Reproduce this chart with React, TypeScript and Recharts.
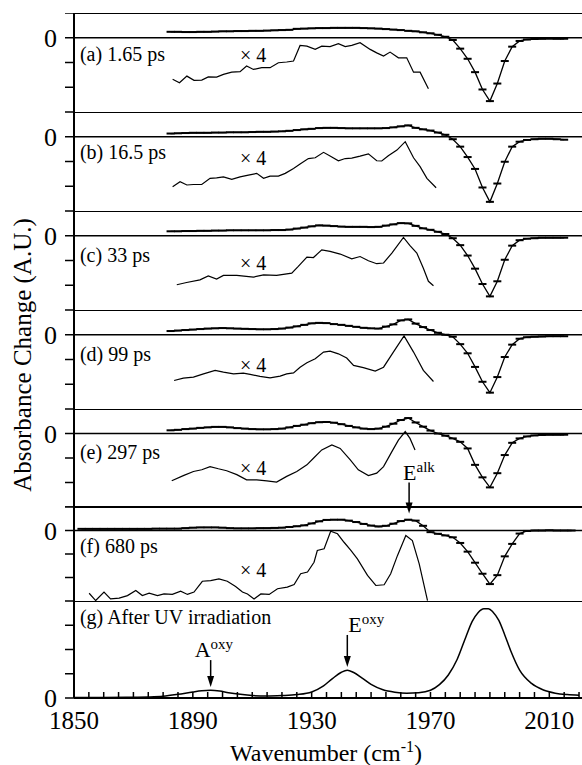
import React from 'react';
import { ComposedChart, Line, XAxis, YAxis, ReferenceLine, ReferenceDot } from 'recharts';

const FONT = "'Liberation Serif', 'Times New Roman', serif";

// wavenumber grid of the error-bar traces (cm-1)
const WAVENUMBERS = [
    1852.5, 1855, 1857.5, 1860, 1862.5, 1865, 1867.5, 1870, 1872.5, 1875, 1877.5, 1880,
    1882.5, 1885, 1887.5, 1890, 1892.5, 1895, 1897.5, 1900, 1902.5, 1905, 1907.5, 1910,
    1912.5, 1915, 1917.5, 1920, 1922.5, 1925, 1927.5, 1930, 1932.5, 1935, 1937.5, 1940,
    1942.5, 1945, 1947.5, 1950, 1952.5, 1955, 1957.5, 1960, 1962.5, 1965, 1967.5, 1970,
    1972.5, 1975, 1977.5, 1980, 1982.5, 1985, 1987.5, 1990, 1992.5, 1995, 1997.5, 2000,
    2002.5, 2005, 2007.5, 2010, 2012.5, 2015, 2017.5,
];
const X_MAIN = WAVENUMBERS.slice(12, 66); // 1882.5 .. 2015

// measured difference spectra (panels a-e start at 1882.5, f at 1852.5)
const A_MAIN = [0.24, 0.24, 0.23, 0.23, 0.24, 0.24, 0.25, 0.26, 0.26, 0.27, 0.27, 0.28, 0.28, 0.29, 0.30, 0.31, 0.32, 0.36, 0.37, 0.38,
    0.39, 0.39, 0.40, 0.40, 0.40, 0.40, 0.39, 0.38, 0.37, 0.35, 0.33, 0.31, 0.28, 0.26, 0.22, 0.18, 0.12, 0.04, -0.09, -0.44,
    -0.85, -1.39, -2.09, -2.56, -1.85, -0.94, -0.36, -0.13, -0.07, -0.05, -0.04, -0.03, -0.04, -0.04];
const B_MAIN = [0.13, 0.14, 0.15, 0.16, 0.16, 0.16, 0.17, 0.17, 0.18, 0.18, 0.18, 0.19, 0.20, 0.20, 0.21, 0.22, 0.24, 0.27, 0.30, 0.32,
    0.35, 0.36, 0.36, 0.35, 0.34, 0.34, 0.34, 0.34, 0.34, 0.35, 0.38, 0.42, 0.46, 0.36, 0.30, 0.25, 0.17, 0.08, -0.10, -0.40,
    -0.82, -1.30, -2.05, -2.63, -1.89, -1.01, -0.40, -0.20, -0.13, -0.10, -0.08, -0.08, -0.10, -0.12];
const C_MAIN = [0.18, 0.18, 0.19, 0.19, 0.20, 0.20, 0.21, 0.21, 0.22, 0.22, 0.22, 0.22, 0.22, 0.22, 0.23, 0.23, 0.25, 0.29, 0.33, 0.38,
    0.42, 0.41, 0.39, 0.37, 0.36, 0.36, 0.36, 0.35, 0.36, 0.41, 0.46, 0.51, 0.50, 0.40, 0.30, 0.24, 0.16, 0.07, -0.10, -0.38,
    -0.80, -1.33, -1.95, -2.45, -1.84, -0.97, -0.40, -0.18, -0.12, -0.10, -0.08, -0.08, -0.08, -0.08];
const D_MAIN = [0.15, 0.17, 0.19, 0.21, 0.23, 0.25, 0.26, 0.27, 0.26, 0.25, 0.24, 0.23, 0.22, 0.22, 0.23, 0.25, 0.29, 0.34, 0.40, 0.46,
    0.48, 0.47, 0.43, 0.40, 0.36, 0.32, 0.28, 0.26, 0.25, 0.33, 0.42, 0.58, 0.62, 0.45, 0.31, 0.19, 0.08, 0.00, -0.08, -0.38,
    -0.75, -1.30, -1.90, -2.34, -1.71, -0.90, -0.40, -0.16, -0.10, -0.08, -0.07, -0.06, -0.06, -0.06];
const E_MAIN = [0.13, 0.15, 0.18, 0.20, 0.23, 0.25, 0.27, 0.27, 0.25, 0.22, 0.20, 0.18, 0.17, 0.17, 0.18, 0.20, 0.25, 0.31, 0.36, 0.42,
    0.46, 0.47, 0.44, 0.38, 0.31, 0.25, 0.20, 0.18, 0.20, 0.28, 0.40, 0.55, 0.63, 0.45, 0.28, 0.12, 0.00, -0.09, -0.20, -0.34,
    -0.61, -1.28, -1.79, -2.20, -1.62, -0.88, -0.38, -0.20, -0.12, -0.08, -0.06, -0.05, -0.05, -0.05];
const F_MAIN = [0.07, 0.07, 0.07, 0.07, 0.07, 0.07, 0.07, 0.07, 0.07, 0.07, 0.08, 0.08,
    0.08, 0.08, 0.10, 0.12, 0.13, 0.13, 0.13, 0.12, 0.10, 0.09, 0.09, 0.09, 0.10, 0.10, 0.11, 0.12, 0.15, 0.18,
    0.22, 0.30, 0.39, 0.45, 0.46, 0.46, 0.42, 0.36, 0.28, 0.21, 0.17, 0.20, 0.29, 0.40, 0.46, 0.42, 0.20, -0.07,
    -0.14, -0.21, -0.29, -0.53, -0.90, -1.37, -1.84, -2.28, -1.90, -1.10, -0.57, -0.13, -0.02, 0.00, 0.00, 0.01,
    0.00, 0.00, 0.00];

// x4 magnified traces (own wavenumber samples)
const A_X4_X = [1883.2, 1885.5, 1888, 1890.4, 1893, 1895.2, 1898, 1900.3, 1903.1, 1905.9, 1908.1, 1910.4, 1913.2, 1916, 1918.8, 1921.6, 1923.9, 1926.1,
    1928.4, 1931.2, 1933.4, 1936.2, 1939, 1941.3, 1943.5, 1946.3, 1949.7, 1951.9, 1954.2, 1956.4, 1959.2, 1962, 1964.3, 1966.5, 1969.3];
const A_X4_Y = [-1.68, -1.82, -1.55, -1.72, -1.71, -1.58, -1.59, -1.48, -1.39, -1.37, -1.14, -1.28, -1.21, -1.21, -1.01, -0.98, -0.94, -0.31,
    -0.34, -0.47, -0.34, -0.36, -0.24, -0.36, -0.31, -0.20, -0.47, -0.61, -0.74, -0.58, -0.81, -0.81, -1.39, -1.39, -2.06];
const B_X4_X = [1883.2, 1885.7, 1888, 1890.2, 1893, 1895.8, 1898, 1900.3, 1903.1, 1905.9, 1908.7, 1911.5, 1913.8, 1916, 1918.8, 1921.1, 1923.9, 1926.1,
    1928.9, 1931.2, 1934, 1936.2, 1939, 1941.3, 1943.5, 1946.3, 1949.1, 1951.9, 1953.6, 1955.8, 1958.7, 1961.5, 1964.3, 1966.5, 1968.8, 1971.9];
const B_X4_Y = [-2.02, -1.82, -1.95, -1.93, -1.93, -1.68, -1.66, -1.62, -1.72, -1.62, -1.55, -1.48, -1.68, -1.59, -1.59, -1.48, -1.28, -1.10,
    -0.88, -0.85, -0.63, -0.78, -0.97, -0.88, -0.86, -0.78, -0.69, -0.97, -0.98, -0.77, -0.54, -0.20, -0.85, -1.21, -1.68, -2.06];
const C_X4_X = [1884.6, 1887.9, 1892.4, 1895.2, 1898, 1900.3, 1904.8, 1910.4, 1913.8, 1918.2, 1923.3, 1925.5, 1928.4, 1930.6, 1933.4,
    1936.2, 1939.6, 1943.5, 1946.3, 1949.1, 1951.9, 1954.2, 1957, 1960.9, 1963.1, 1965.4, 1967.6, 1969.3, 1971];
const C_X4_Y = [-1.98, -1.89, -1.78, -1.62, -1.75, -1.60, -1.60, -1.67, -1.58, -1.60, -1.51, -1.24, -0.86, -0.88, -0.57,
    -0.63, -0.74, -0.93, -0.84, -1.01, -1.13, -1.10, -0.70, -0.07, -0.40, -0.70, -1.31, -1.84, -2.02];
const D_X4_X = [1883.7, 1886.8, 1890.2, 1893.6, 1897.5, 1900.3, 1903.7, 1907, 1909.3, 1912.6, 1916, 1919.4, 1921.6, 1923.9, 1926.1,
    1928.4, 1931.2, 1934, 1936.2, 1939, 1941.8, 1944.1, 1947.4, 1951.4, 1954.2, 1957.5, 1961.1, 1964.3, 1967.6, 1971];
const D_X4_Y = [-1.85, -1.75, -1.71, -1.58, -1.44, -1.51, -1.58, -1.55, -1.60, -1.68, -1.74, -1.67, -1.58, -1.54, -1.31,
    -1.13, -0.97, -0.70, -0.66, -0.77, -0.94, -1.24, -1.33, -1.47, -1.31, -0.70, -0.05, -0.70, -1.44, -1.89];
const E_X4_X = [1882.9, 1886.8, 1890.2, 1893, 1895.8, 1898.6, 1901.4, 1904.8, 1908.1, 1911.5, 1914.9, 1918.2, 1921.6, 1925, 1928.4,
    1930.6, 1933.4, 1936.8, 1939.6, 1943, 1945.7, 1949.1, 1951.9, 1954.2, 1957, 1959.2, 1961.5, 1963.1, 1964.8];
const E_X4_Y = [-1.93, -1.72, -1.55, -1.48, -1.35, -1.44, -1.52, -1.68, -1.89, -1.89, -1.93, -1.98, -1.75, -1.55, -1.28,
    -1.01, -0.67, -0.47, -0.61, -1.08, -1.48, -1.72, -1.62, -1.35, -0.74, -0.27, 0.08, -0.20, -0.67];
const F_X4_X = [1855.1, 1857.3, 1860.1, 1862.3, 1865.2, 1868, 1870.8, 1873, 1875.3, 1878.1, 1880.3, 1883.1, 1885.9, 1888.2, 1890.4, 1893.2,
    1896, 1898.8, 1901.6, 1904.4, 1906.7, 1908.4, 1910.6, 1912.9, 1915.7, 1918.5, 1921.8, 1924.1, 1926.3, 1928.6, 1930.8, 1931.9,
    1934.2, 1936.4, 1938.7, 1940.9, 1943.2, 1945.4, 1948.8, 1951.6, 1954.4, 1956.6, 1958.9, 1961.7, 1963.9, 1966.2, 1969];
const F_X4_Y = [-2.67, -2.98, -2.62, -2.91, -2.88, -2.77, -2.55, -2.77, -2.67, -2.77, -2.70, -2.72, -2.58, -2.72, -2.62, -2.16,
    -2.13, -2.06, -2.16, -2.38, -2.62, -2.70, -2.91, -2.70, -2.72, -2.48, -2.41, -2.30, -1.84, -1.77, -1.35, -0.85,
    -0.78, -0.03, -0.14, -0.50, -0.85, -1.21, -1.91, -2.34, -2.31, -1.84, -1.06, -0.21, -0.43, -1.42, -2.98];

// (g) static spectrum after UV irradiation
const G_X = [1850, 1860, 1870, 1875, 1880, 1885, 1890, 1893, 1896, 1899, 1902, 1906, 1910, 1915, 1920, 1925, 1930, 1934, 1937, 1940,
    1942, 1944, 1947, 1950, 1954, 1958, 1962, 1966, 1970, 1973, 1976, 1979, 1982, 1984, 1986, 1988, 1989.5, 1991, 1993, 1995,
    1997, 2000, 2004, 2008, 2012, 2016, 2020];
const G_Y = [0.02, 0.02, 0.03, 0.04, 0.07, 0.15, 0.25, 0.30, 0.32, 0.29, 0.22, 0.15, 0.10, 0.08, 0.10, 0.14, 0.25, 0.50, 0.80, 1.06,
    1.14, 1.06, 0.82, 0.56, 0.34, 0.24, 0.20, 0.22, 0.32, 0.55, 0.95, 1.60, 2.55, 3.15, 3.52, 3.68, 3.68, 3.55, 3.20, 2.60,
    1.95, 1.15, 0.60, 0.33, 0.20, 0.14, 0.11];

const X_TICKS = [1850, 1855, 1860, 1865, 1870, 1875, 1880, 1885, 1890, 1895, 1900, 1905, 1910, 1915, 1920, 1925, 1930, 1935,
    1940, 1945, 1950, 1955, 1960, 1965, 1970, 1975, 1980, 1985, 1990, 1995, 2000, 2005, 2010, 2015, 2020];
const X_LABELS = [1850, 1890, 1930, 1970, 2010];

const toPoints = (xs: number[], ys: number[]) => xs.map((x, i) => ({ x, y: ys[i] }));

const ErrorTick = (props: any) => {
    const { cx, cy, index } = props;
    if (cx == null || cy == null) return <g key={index} />;
    return <rect key={index} x={cx - 4} y={cy - 1} width={8} height={2} fill="#000" />;
};

const XTick = (props: any) => {
    const { x, y, payload } = props;
    return (
        <g>
            <line x1={x} x2={x} y1={y} y2={y - 6} stroke="#000" strokeWidth={1.5} />
            {X_LABELS.includes(payload.value) && (
                <text x={x} y={y + 31} textAnchor="middle" fontSize={25} fontFamily={FONT} fill="#000">
                    {payload.value}
                </text>
            )}
        </g>
    );
};

const textShape = (value: string, size = 20) => (p: any) => (
    <text x={p.cx} y={p.cy} fontSize={size} fontFamily={FONT} fill="#000">{value}</text>
);

const arrowShape = (base: string, sup: string, len: number, dx: number) => (p: any) => {
    const { cx, cy } = p;
    return (
        <g>
            <line x1={cx} x2={cx} y1={cy - len} y2={cy - 9} stroke="#000" strokeWidth={1.5} />
            <path d={`M${cx - 3.5},${cy - 11}L${cx + 3.5},${cy - 11}L${cx},${cy}Z`} fill="#000" />
            <text x={cx + dx} y={cy - len - 3} fontSize={22} fontFamily={FONT} fill="#000">
                {base}
                <tspan dy={-8} fontSize={15}>{sup}</tspan>
            </text>
        </g>
    );
};

interface PanelProps {
    top: number;
    height: number;
    padTop?: number;
    domain: [number, number];
    ticks: number[];
    frame: number;
    bottomAxis?: boolean;
    children: React.ReactNode;
}

const Panel: React.FC<PanelProps> = ({ top, height, padTop = 0, domain, ticks, frame, bottomAxis = false, children }) => {
    const axisH = bottomAxis ? 67 : 0;
    return (
        <div style={{ position: 'absolute', left: 0, top: top - padTop }}>
            <ComposedChart width={582} height={height + padTop + axisH} margin={{ top: padTop, right: 0, bottom: 0, left: 0 }}>
                <XAxis
                    type="number"
                    dataKey="x"
                    domain={[1850, 2021]}
                    allowDataOverflow
                    hide={!bottomAxis}
                    height={axisH}
                    ticks={X_TICKS}
                    interval={0}
                    tick={<XTick />}
                    tickSize={0}
                    tickMargin={0}
                    tickLine={false}
                    axisLine={{ stroke: '#000', strokeWidth: 2 }}
                />
                <YAxis
                    type="number"
                    domain={domain}
                    ticks={ticks}
                    interval={0}
                    allowDataOverflow
                    width={74}
                    tickSize={9}
                    tickMargin={8}
                    tickFormatter={(v: number) => (v === 0 ? '0' : '')}
                    tick={{ fill: '#000', fontSize: 26, fontFamily: FONT }}
                    tickLine={{ stroke: '#000', strokeWidth: 1.5 }}
                    axisLine={{ stroke: '#000', strokeWidth: 2 }}
                />
                <ReferenceLine y={frame} stroke="#000" strokeWidth={1.8} />
                {!bottomAxis && <ReferenceLine y={0} stroke="#000" strokeWidth={1.3} />}
                {children}
            </ComposedChart>
        </div>
    );
};

const PANELS = [
    { id: 'a', top: 13, height: 99, label: '(a) 1.65 ps', labelAt: -0.94, scaleAt: -0.98, mainX: X_MAIN, main: A_MAIN, x4X: A_X4_X, x4: A_X4_Y },
    { id: 'b', top: 112, height: 99, label: '(b) 16.5 ps', labelAt: -0.88, scaleAt: -1.14, mainX: X_MAIN, main: B_MAIN, x4X: B_X4_X, x4: B_X4_Y },
    { id: 'c', top: 211, height: 99, label: '(c) 33 ps', labelAt: -1.05, scaleAt: -1.38, mainX: X_MAIN, main: C_MAIN, x4X: C_X4_X, x4: C_X4_Y },
    { id: 'd', top: 310, height: 99, label: '(d) 99 ps', labelAt: -1.06, scaleAt: -1.51, mainX: X_MAIN, main: D_MAIN, x4X: D_X4_X, x4: D_X4_Y },
    { id: 'e', top: 409, height: 98, label: '(e) 297 ps', labelAt: -1.04, scaleAt: -1.7, mainX: X_MAIN, main: E_MAIN, x4X: E_X4_X, x4: E_X4_Y },
    { id: 'f', top: 507, height: 94, label: '(f) 680 ps', labelAt: -0.94, scaleAt: -1.98, mainX: WAVENUMBERS, main: F_MAIN, x4X: F_X4_X, x4: F_X4_Y },
];

export default function App() {
    return (
        <div style={{ position: 'absolute', left: 0, top: 0, width: 582, height: 765, background: '#fff', overflow: 'hidden' }}>
            {PANELS.map(p => (
                <Panel key={p.id} top={p.top} height={p.height} padTop={p.id === 'f' ? 55 : 0} domain={[-3, 1]} ticks={[-3, -2, -1, 0, 1]} frame={1}>
                    <Line data={toPoints(p.mainX, p.main)} dataKey="y" stroke="#000" strokeWidth={1.3} dot={ErrorTick} isAnimationActive={false} />
                    <Line data={toPoints(p.x4X, p.x4)} dataKey="y" stroke="#000" strokeWidth={1.2} dot={false} isAnimationActive={false} />
                    <ReferenceDot x={1852} y={p.labelAt} r={0} shape={textShape(p.label)} />
                    <ReferenceDot x={1905.9} y={p.scaleAt} r={0} shape={textShape('× 4')} />
                    {p.id === 'f' && <ReferenceDot x={1962.8} y={0.72} r={0} shape={arrowShape('E', 'alk', 31, -6)} />}
                </Panel>
            ))}
            <Panel top={601} height={97} domain={[0, 4]} ticks={[0, 1, 2, 3, 4]} frame={4} bottomAxis>
                <Line data={toPoints(G_X, G_Y)} dataKey="y" type="monotone" stroke="#000" strokeWidth={1.5} dot={false} isAnimationActive={false} />
                <ReferenceDot x={1852} y={3.04} r={0} shape={textShape('(g) After UV irradiation')} />
                <ReferenceDot x={1896} y={0.45} r={0} shape={arrowShape('A', 'oxy', 27, -16)} />
                <ReferenceDot x={1942} y={1.28} r={0} shape={arrowShape('E', 'oxy', 32, 1)} />
            </Panel>
            <svg width={582} height={765} style={{ position: 'absolute', left: 0, top: 0, pointerEvents: 'none' }}>
                <text transform="rotate(-90)" x={-355} y={31} textAnchor="middle" fontSize={25} fontFamily={FONT} fill="#000">
                    Absorbance Change (A.U.)
                </text>
                <text x={326} y={761} textAnchor="middle" fontSize={24} fontFamily={FONT} fill="#000">
                    Wavenumber (cm<tspan dy={-9} fontSize={16}>-1</tspan><tspan dy={9}>)</tspan>
                </text>
            </svg>
        </div>
    );
}
